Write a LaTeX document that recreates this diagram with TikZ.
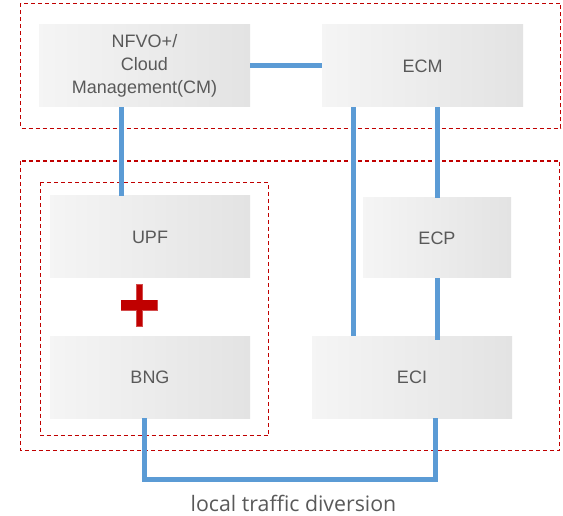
\documentclass[tikz,border=0pt]{standalone}
\usepackage{fontspec}
\setmainfont{Liberation Sans}
\newfontfamily\captionfont{Open Sans}
\definecolor{txtgray}{HTML}{595959}
\definecolor{linkblue}{HTML}{5B9BD5}
\definecolor{dred}{HTML}{C00000}
\begin{document}
\begin{tikzpicture}[x=1pt,y=-1pt,
  nebox/.style={rectangle, inner sep=0pt, align=center, text=txtgray,
    font=\fontsize{18}{23.3}\selectfont,
    left color=black!4, middle color=black!15, right color=black!11},
  zone/.style={draw=dred, line width=1.3pt, dash pattern=on 4pt off 3pt},
  link/.style={draw=linkblue, line width=5pt}]
\useasboundingbox (0,0) rectangle (563,516);
% zones
\draw[zone] (20.5,3.5) rectangle (560.5,128.5);
\draw[zone] (20.5,161) rectangle (559.5,450.5);
\draw[zone] (40.5,182.5) rectangle (268.5,435.5);
% boxes
\node[nebox, minimum width=211pt, minimum height=82pt] (nfvo) at (144.5,66) {NFVO+/\\Cloud\\Management(CM)};
\node[nebox, minimum width=201pt, minimum height=82pt] (ecm) at (422.5,66) {ECM};
\node[nebox, minimum width=200pt, minimum height=82pt] (upf) at (150,237) {UPF};
\node[nebox, minimum width=200pt, minimum height=82pt] (bng) at (150,377) {BNG};
\node[nebox, minimum width=148pt, minimum height=80pt] (ecp) at (437,238) {ECP};
\node[nebox, minimum width=200pt, minimum height=82pt] (eci) at (412,377) {ECI};
% links
\coordinate (c1) at (121.5,0);
\coordinate (c2) at (353.5,0);
\coordinate (c3) at (437,0);
\coordinate (c4) at (144.5,0);
\coordinate (c5) at (435.5,0);
\coordinate (low) at (0,479.5);
\draw[link] (nfvo.east |- 0,65.5) -- (ecm.west |- 0,65.5);
\draw[link] (nfvo.south -| c1) -- (upf.north -| c1);
\draw[link] (ecm.south -| c2) -- (eci.north -| c2);
\draw[link] (ecm.south -| c3) -- (ecp.north -| c3);
\draw[link] (ecp.south -| c3) -- ([yshift=-4pt]eci.north -| c3);
\draw[link, line join=miter] (bng.south -| c4) -- (c4 |- low) -- (c5 |- low) -- (eci.south -| c5);
% plus sign
\fill[dred, draw=dred!70!white, line width=0.6pt] (121,300) rectangle (157,310);
\fill[dred, draw=dred!70!white, line width=0.6pt] (136.5,284) rectangle (142,326);
\fill[dred] (121.3,300.3) rectangle (156.7,309.7);
% caption
\node[text=txtgray, font=\captionfont\fontsize{21.3}{25}\selectfont, anchor=base] (cap) at (293.5,511) {local traffic diversion};
\end{tikzpicture}
\end{document}
